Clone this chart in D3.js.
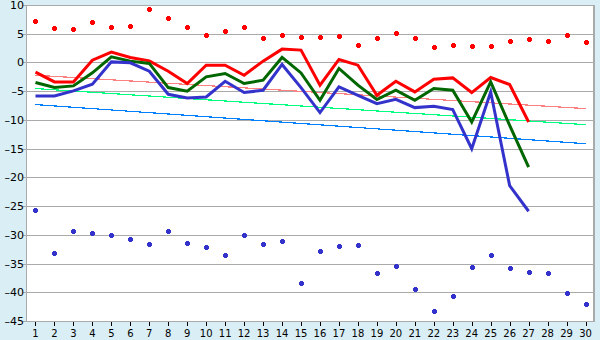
<!DOCTYPE html>
<html>
<head>
<meta charset="utf-8">
<script src="https://cdn.jsdelivr.net/npm/d3@7"></script>
<style>
  body { margin: 0; background: #d9eef5; }
  svg { display: block; font-family: "DejaVu Sans", Verdana, sans-serif; }
</style>
</head>
<body>
<div id="chart"></div>
<script>
// categories 1..30
var days = d3.range(1, 31);
var yTicks = d3.range(-45, 11, 5);

// upper red markers
var redDots = [7.16, 5.94, 5.76, 6.98, 6.11, 6.34, 9.25, 7.68, 6.11, 4.77,
               5.47, 6.16, 4.19, 4.77, 4.37, 4.37, 4.59, 3.02, 4.19, 5.06,
               4.19, 2.62, 3.02, 2.85, 2.85, 3.67, 4.02, 3.67, 4.77, 3.49];
// lower blue markers
var blueDots = [-25.67, -33.18, -29.33, -29.68, -30.03, -30.68, -31.6, -29.33, -31.43, -32.13,
                -33.53, -30.03, -31.6, -31.08, -38.41, -32.83, -31.95, -31.78, -36.67, -35.45,
                -39.46, -43.3, -40.68, -35.62, -33.53, -35.8, -36.49, -36.67, -40.16, -42.08];
// thick lines (27 points)
var redLine = [-1.69, -3.39, -3.39, 0.4, 1.8, 0.87, 0.28, -1.52, -3.67, -0.47,
               -0.47, -2.22, 0.23, 2.32, 2.15, -3.96, 0.52, -0.47, -5.71, -3.27,
               -5.13, -2.92, -2.69, -5.24, -2.62, -3.84, -10.37];
var greenLine = [-3.49, -4.37, -4.08, -1.8, 0.98, 0.23, -0.17, -4.37, -5.01, -2.51,
                 -1.92, -3.67, -3.09, 0.87, -1.82, -6.58, -1.05, -3.96, -6.46, -4.84,
                 -6.58, -4.54, -4.84, -10.37, -3.39, -10.96, -18.23];
var blueLine = [-5.83, -5.83, -4.95, -3.79, 0.1, -0.07, -1.52, -5.54, -6.18, -6.0,
                -3.27, -5.24, -4.84, -0.35, -4.37, -8.73, -4.26, -5.71, -7.16, -6.41,
                -7.86, -7.63, -8.21, -15.02, -5.13, -21.43, -25.9];
// thin trend lines: [start, end] over days 1..30
var pinkTrend = [-2.22, -8.03];
var greenTrend = [-4.54, -10.83];
var blueTrend = [-7.33, -14.14];

var W = 600, H = 340;
var pL = 26, pR = 595, pT = 5, pB = 321;

var svg = d3.select("#chart").append("svg")
  .attr("width", W).attr("height", H);

svg.append("rect").attr("width", W).attr("height", H).attr("fill", "#d9eef5");

var x = d3.scaleBand().domain(days).range([pL, pR]);
var xc = d => x(d) + x.bandwidth() / 2;
var y = d3.scaleLinear().domain([-45, 10]).range([pB, pT]);

// plot area
svg.append("rect")
  .attr("x", pL).attr("y", pT)
  .attr("width", pR - pL).attr("height", pB - pT)
  .attr("fill", "#fff");

// gridlines (extended a bit left as ticks)
svg.append("g").selectAll("line")
  .data(yTicks).enter().append("line")
  .attr("x1", pL - 3).attr("x2", pR)
  .attr("y1", d => Math.round(y(d)) + 0.5).attr("y2", d => Math.round(y(d)) + 0.5)
  .attr("stroke", "#aaaaaa").attr("stroke-width", 1);

// border
svg.append("line").attr("x1", pL + 0.5).attr("x2", pL + 0.5)
  .attr("y1", pT).attr("y2", pB).attr("stroke", "#aaaaaa");
svg.append("line").attr("x1", pR - 1).attr("x2", pR - 1)
  .attr("y1", pT).attr("y2", pB + 1).attr("stroke", "#aaaaaa").attr("stroke-width", 2);

// x ticks + labels
var xt = svg.append("g");
xt.selectAll("line").data(days).enter().append("line")
  .attr("x1", d => Math.round(xc(d)) + 0.5).attr("x2", d => Math.round(xc(d)) + 0.5)
  .attr("y1", pB + 1).attr("y2", pB + 5)
  .attr("stroke", "#000");
xt.selectAll("text").data(days).enter().append("text")
  .attr("x", d => xc(d)).attr("y", 336.5)
  .attr("text-anchor", "middle").attr("font-size", 10).attr("fill", "#000")
  .text(d => d);

// y labels
svg.append("g").selectAll("text").data(yTicks).enter().append("text")
  .attr("x", 24).attr("y", d => y(d) + 4)
  .attr("text-anchor", "end").attr("font-size", 11).attr("fill", "#000")
  .text(d => d < 0 ? "\u2013" + Math.abs(d) : d);

// trend lines
var trends = [[pinkTrend, "#ff8080"], [greenTrend, "#00ff80"], [blueTrend, "#0080ff"]];
trends.forEach(function(t) {
  svg.append("line")
    .attr("x1", xc(1)).attr("x2", xc(30))
    .attr("y1", y(t[0][0])).attr("y2", y(t[0][1]))
    .attr("stroke", t[1]).attr("stroke-width", 1.2)
    .attr("shape-rendering", "crispEdges");
});

// thick lines
var line = d3.line().x((d, i) => xc(days[i])).y(d => y(d));
[[redLine, "#ff0000"], [greenLine, "#006600"], [blueLine, "#3333cc"]].forEach(function(s) {
  svg.append("path").datum(s[0])
    .attr("d", line)
    .attr("fill", "none")
    .attr("stroke", s[1]).attr("stroke-width", 3)
    .attr("stroke-linejoin", "miter");
});

// markers: small 5x5 plus with fat arms
var plus = {
  draw: function(ctx) {
    ctx.moveTo(-1.5, -2.5); ctx.lineTo(1.5, -2.5); ctx.lineTo(1.5, -1.5);
    ctx.lineTo(2.5, -1.5); ctx.lineTo(2.5, 1.5); ctx.lineTo(1.5, 1.5);
    ctx.lineTo(1.5, 2.5); ctx.lineTo(-1.5, 2.5); ctx.lineTo(-1.5, 1.5);
    ctx.lineTo(-2.5, 1.5); ctx.lineTo(-2.5, -1.5); ctx.lineTo(-1.5, -1.5);
    ctx.closePath();
  }
};
var marker = d3.symbol().type(plus);
svg.append("g").selectAll("path").data(redDots).enter().append("path")
  .attr("d", marker)
  .attr("transform", (d, i) => `translate(${Math.round(xc(days[i])) + 0.5},${Math.round(y(d)) + 0.5})`)
  .attr("fill", "#ff0000");
svg.append("g").selectAll("path").data(blueDots).enter().append("path")
  .attr("d", marker)
  .attr("transform", (d, i) => `translate(${Math.round(xc(days[i])) + 0.5},${Math.round(y(d)) + 0.5})`)
  .attr("fill", "#3333cc");
</script>
</body>
</html>
